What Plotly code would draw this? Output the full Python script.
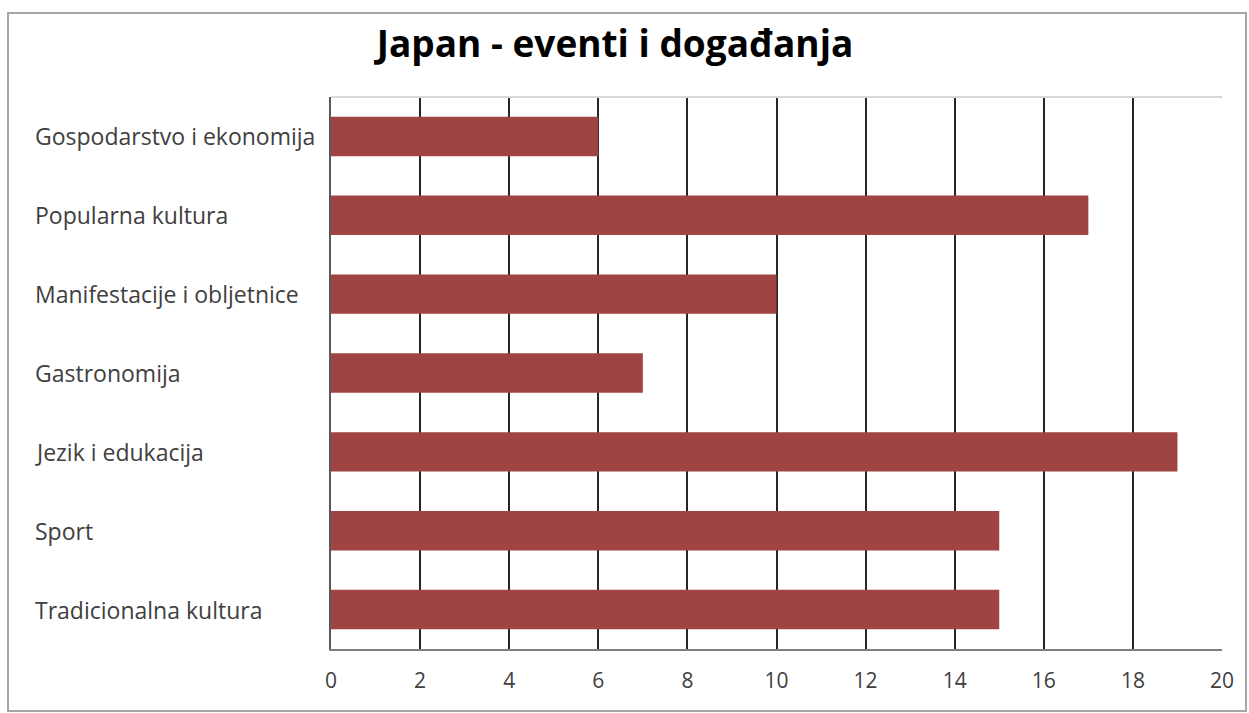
import plotly.graph_objects as go

categories = ["Tradicionalna kultura", "Sport", "Jezik i edukacija", "Gastronomija",
              "Manifestacije i obljetnice", "Popularna kultura", "Gospodarstvo i ekonomija"]
values = [15, 15, 19, 7, 10, 17, 6]
x_ticks = [0, 2, 4, 6, 8, 10, 12, 14, 16, 18, 20]

W, H = 1249, 713
L, R, T, B = 331, 27, 97, 64
pw = W - L - R
FONT = "Open Sans, Lato, sans-serif"

fig = go.Figure()
fig.add_trace(go.Bar(
    y=categories, x=values, orientation="h",
    marker=dict(color="#A04343", line=dict(width=0)),
    hoverinfo="x+y",
))

annotations = []
for c in categories:
    annotations.append(dict(
        x=0, xref="paper", y=c, yref="y", text=c, showarrow=False,
        xanchor="left", xshift=-(L - 33), align="left",
        font=dict(family=FONT, size=23, color="#404040"),
    ))

fig.update_layout(
    width=W, height=H,
    margin=dict(l=L, r=R, t=T, b=B),
    paper_bgcolor="white", plot_bgcolor="white",
    bargap=0.5,
    showlegend=False,
    title=dict(text="<b>Japan - eventi i događanja</b>", x=615 / W, xref="container",
               xanchor="center", y=1 - 44 / H, yanchor="middle",
               font=dict(family=FONT, size=37, color="black")),
    xaxis=dict(range=[0, 20], tickvals=x_ticks, ticktext=[str(v) for v in x_ticks],
               showgrid=True, gridcolor="#262626", gridwidth=2,
               showline=True, linecolor="#7f7f7f", linewidth=2,
               ticks="", zeroline=False, mirror=False,
               tickfont=dict(family=FONT, size=21, color="#404040"),
               ticklabelstandoff=12, fixedrange=True),
    yaxis=dict(categoryorder="array", categoryarray=categories,
               showticklabels=False, showgrid=False,
               showline=True, linecolor="#595959", linewidth=2,
               ticks="outside", ticklen=0, fixedrange=True),
    annotations=annotations,
    shapes=[
        dict(type="rect", xref="paper", yref="paper",
             x0=(8 - L) / pw, x1=(1246 - L) / pw,
             y0=-(711 - (H - B)) / (H - T - B), y1=1 + (T - 13) / (H - T - B),
             line=dict(color="#a6a6a6", width=2), fillcolor="rgba(0,0,0,0)", layer="below"),
        dict(type="line", xref="paper", yref="paper", x0=0, x1=1, y0=1, y1=1,
             line=dict(color="#d9d9d9", width=2)),
    ],
)

fig.write_html("out.html")
